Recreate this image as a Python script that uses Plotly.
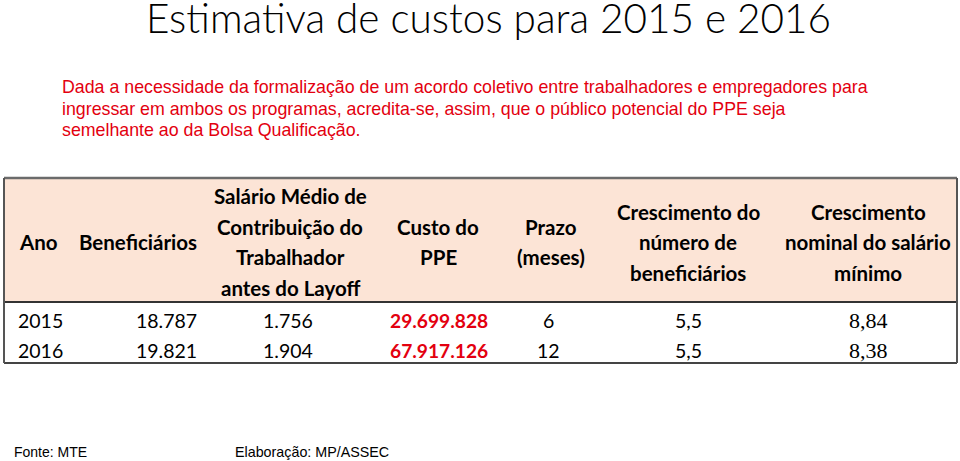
import plotly.graph_objects as go

# ---- data ----
title_text = "Estimativa de custos para 2015 e 2016"
paragraph_lines = [
    "Dada a necessidade da formalização de um acordo coletivo entre trabalhadores e empregadores para",
    "ingressar em ambos os programas, acredita-se, assim, que o público potencial do PPE seja",
    "semelhante ao da Bolsa Qualificação.",
]
headers = [
    "Ano",
    "Beneficiários",
    "Salário Médio de<br>Contribuição do<br>Trabalhador<br>antes do Layoff",
    "Custo do<br>PPE",
    "Prazo<br>(meses)",
    "Crescimento do<br>número de<br>beneficiários",
    "Crescimento<br>nominal do salário<br>mínimo",
]
anos = ["2015", "2016"]
beneficiarios = ["18.787", "19.821"]
salario_medio = ["1.756", "1.904"]
custo_ppe = ["29.699.828", "67.917.126"]
prazo = ["6", "12"]
cresc_benef = ["5,5", "5,5"]
cresc_salario = ["8,84", "8,38"]
fonte = "Fonte: MTE"
elaboracao = "Elaboração: MP/ASSEC"

columns = [anos, beneficiarios, salario_medio, custo_ppe, prazo, cresc_benef, cresc_salario]

# ---- layout / style (pixel-like axis units) ----
W, H = 960, 461
col_header_x = [38, 138, 290, 438, 551, 688, 868]
col_data_x = [16, 199, 288, 439, 548, 688, 868]
col_data_anchor = ["left", "right", "center", "center", "center", "center", "center"]
header_mid_y = 242
header_line_gap = 30.5
row_y = [320, 350]
tab_left, tab_right = 4, 957
tab_top, head_bottom, tab_bottom = 178, 302, 363

CAL = "Lato, Carlito, Calibri, sans-serif"
SERIF = "Liberation Serif"
ARIAL = "Liberation Sans, Arial, sans-serif"
red = "#E3000F"

fig = go.Figure()
fig.add_trace(go.Scatter(x=[0, W], y=[0, H], mode="markers", marker=dict(opacity=0),
                         hoverinfo="skip", showlegend=False))

ann = []
ann.append(dict(x=488, y=17, text=title_text, showarrow=False, xanchor="center", yanchor="middle",
                font=dict(family=CAL, size=40.5, color="#000", weight=300)))
for i, line in enumerate(paragraph_lines):
    ann.append(dict(x=60, y=87 + i * 21.5, text=line, showarrow=False, xanchor="left", yanchor="middle",
                    font=dict(family=ARIAL, size=17.8, color=red)))

# header
for cx, h in zip(col_header_x, headers):
    lines = h.split("<br>")
    n = len(lines)
    for j, ln in enumerate(lines):
        y = header_mid_y + (j - (n - 1) / 2) * header_line_gap
        ann.append(dict(x=cx, y=y, text=ln, showarrow=False, xanchor="center", yanchor="middle",
                        font=dict(family=CAL, size=20.5, color="#000", weight="bold")))

# body
for ci, col in enumerate(columns):
    for ri, val in enumerate(col):
        font = dict(family=CAL, size=19.5, color="#000")
        if ci == 3:
            font = dict(family=CAL, size=19.2, color=red, weight="bold")
        if ci == 6:
            font = dict(family=SERIF, size=22, color="#000", weight="normal")
        ann.append(dict(x=col_data_x[ci], y=row_y[ri], text=val, showarrow=False,
                        xanchor=col_data_anchor[ci], yanchor="middle", font=font))

ann.append(dict(x=12, y=452, text=fonte, showarrow=False, xanchor="left", yanchor="middle",
                font=dict(family=ARIAL, size=14, color="#000")))
ann.append(dict(x=233, y=452, text=elaboracao, showarrow=False, xanchor="left", yanchor="middle",
                font=dict(family=ARIAL, size=14.3, color="#000")))

for a in ann:
    a.update(xref="x", yref="y")

shapes = [
    dict(type="rect", x0=tab_left, x1=tab_right, y0=tab_top, y1=head_bottom,
         fillcolor="#FCE4D6", line=dict(width=0), layer="below"),
    dict(type="line", x0=tab_left, x1=tab_right, y0=tab_top, y1=tab_top, line=dict(color="#6b6b6b", width=2.5)),
    dict(type="line", x0=tab_left, x1=tab_right, y0=head_bottom, y1=head_bottom, line=dict(color="#333", width=1.8)),
    dict(type="line", x0=tab_left, x1=tab_right, y0=tab_bottom, y1=tab_bottom, line=dict(color="#444", width=2)),
    dict(type="line", x0=tab_left, x1=tab_left, y0=tab_top, y1=tab_bottom, line=dict(color="#555", width=2)),
    dict(type="line", x0=tab_right, x1=tab_right, y0=tab_top, y1=tab_bottom, line=dict(color="#555", width=2)),
]
for s in shapes:
    s.update(xref="x", yref="y")

fig.update_layout(
    width=W, height=H, margin=dict(l=0, r=0, t=0, b=0),
    paper_bgcolor="white", plot_bgcolor="white",
    xaxis=dict(range=[0, W], visible=False, fixedrange=True),
    yaxis=dict(range=[H, 0], visible=False, fixedrange=True),
    annotations=ann, shapes=shapes, showlegend=False,
)
fig.write_html("out.html", config={"displayModeBar": False},
               post_script="document.body.style.margin='0px';document.body.style.overflow='hidden';")
